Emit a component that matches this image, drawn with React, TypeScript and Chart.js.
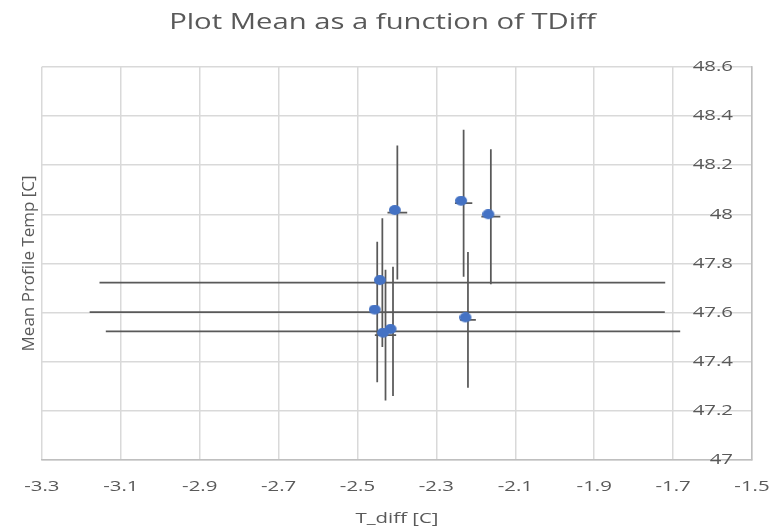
import React, { useEffect, useRef } from 'react';
import { Chart, registerables } from 'chart.js';

Chart.register(...registerables);

// ---- data ----
const X_MIN = -3.3;
const X_MAX = -1.5;
const X_STEP = 0.2;
const Y_MIN = 47;
const Y_MAX = 48.6;
const Y_STEP = 0.2;

const tDiff = [-2.399, -2.231, -2.162, -2.22, -2.437, -2.45, -2.41, -2.429];
const meanTemp = [48.007, 48.045, 47.99, 47.57, 47.722, 47.602, 47.523, 47.508];
const tDiffErr = [0.025, 0.022, 0.024, 0.02, 0.717, 0.729, 0.728, 0.027];
const meanTempErr = [0.273, 0.299, 0.275, 0.276, 0.262, 0.286, 0.263, 0.266];

const TITLE = 'Plot Mean as a function of TDiff';
const X_TITLE = 'T_diff [C]';
const Y_TITLE = 'Mean Profile Temp [C]';

// ---- styles ----
const FONT = "'Open Sans', sans-serif";
const TEXT = '#595959';
const GRID = '#d9d9d9';
const AXIS = '#bfbfbf';
const BAR = '#595959';
const MARKER = '#4472C4';
const STRETCH = 1.36; // horizontal stretch of (unrotated) text, as in the reference

function makeMarker(): HTMLCanvasElement {
  const c = document.createElement('canvas');
  c.width = 17;
  c.height = 15;
  const g = c.getContext('2d')!;
  g.fillStyle = MARKER;
  g.beginPath();
  g.ellipse(6, 5, 6, 5, 0, 0, Math.PI * 2);
  g.fill();
  return c;
}

function stretchText(ctx: CanvasRenderingContext2D) {
  const origFill = ctx.fillText.bind(ctx);
  const origMeasure = ctx.measureText.bind(ctx);
  (ctx as any).fillText = (text: string, x: number, y: number) => {
    const t = ctx.getTransform();
    if (Math.abs(t.b) > 1e-6 || Math.abs(t.c) > 1e-6) {
      origFill(text, x, y);
      return;
    }
    ctx.save();
    ctx.translate(x, y);
    ctx.scale(STRETCH, 1);
    origFill(text, 0, 0);
    ctx.restore();
  };
  (ctx as any).measureText = (text: string) => {
    const m = origMeasure(text);
    return {
      width: m.width * STRETCH,
      actualBoundingBoxAscent: m.actualBoundingBoxAscent,
      actualBoundingBoxDescent: m.actualBoundingBoxDescent,
      actualBoundingBoxLeft: m.actualBoundingBoxLeft * STRETCH,
      actualBoundingBoxRight: m.actualBoundingBoxRight * STRETCH,
      fontBoundingBoxAscent: m.fontBoundingBoxAscent,
      fontBoundingBoxDescent: m.fontBoundingBoxDescent,
    };
  };
}

const fmt = (v: number | string) => String(Math.round(Number(v) * 10) / 10);

const errorBarPlugin = {
  id: 'errorBars',
  beforeDatasetsDraw(chart: any) {
    const { ctx, scales } = chart;
    const x = scales.x;
    const y = scales.y;
    ctx.save();
    ctx.strokeStyle = BAR;
    ctx.lineWidth = 1.75;
    for (let i = 0; i < tDiff.length; i++) {
      const px = x.getPixelForValue(tDiff[i]);
      const py = y.getPixelForValue(meanTemp[i]);
      ctx.beginPath();
      ctx.moveTo(x.getPixelForValue(tDiff[i] - tDiffErr[i]), py);
      ctx.lineTo(x.getPixelForValue(tDiff[i] + tDiffErr[i]), py);
      ctx.moveTo(px, y.getPixelForValue(meanTemp[i] - meanTempErr[i]));
      ctx.lineTo(px, y.getPixelForValue(meanTemp[i] + meanTempErr[i]));
      ctx.stroke();
    }
    ctx.restore();
  },
};

export default function App() {
  const ref = useRef<HTMLCanvasElement>(null);

  useEffect(() => {
    document.body.style.margin = '0';
    const canvas = ref.current!;
    stretchText(canvas.getContext('2d')!);
    const marker = makeMarker();
    const chart = new Chart(canvas, {
      type: 'scatter',
      data: {
        datasets: [
          {
            data: tDiff.map((x, i) => ({ x, y: meanTemp[i] })),
            pointStyle: marker as any,
            pointRadius: 6,
            backgroundColor: MARKER,
            borderColor: MARKER,
          },
        ],
      },
      options: {
        responsive: false,
        animation: false,
        layout: { padding: { left: 13, right: 20, top: 0, bottom: 2 } },
        plugins: {
          legend: { display: false },
          tooltip: { enabled: false },
          title: {
            display: true,
            text: TITLE,
            color: TEXT,
            font: { family: FONT, size: 21.5, weight: 'normal' },
            padding: { top: 10, bottom: 31 },
          },
        },
        scales: {
          x: {
            type: 'linear',
            position: 'bottom',
            min: X_MIN,
            max: X_MAX,
            ticks: {
              stepSize: X_STEP,
              color: TEXT,
              font: { family: FONT, size: 15 },
              padding: 0,
              callback: (v: any) => fmt(v),
            },
            grid: {
              color: GRID,
              lineWidth: 1.5,
              drawTicks: true,
              tickLength: 18,
              tickColor: 'rgba(0,0,0,0)',
            },
            border: { display: true, color: AXIS, width: 1.5 },
            title: {
              display: true,
              text: X_TITLE,
              color: TEXT,
              font: { family: FONT, size: 15 },
              padding: { top: 14, bottom: 0 },
            },
          },
          y: {
            type: 'linear',
            position: 'right',
            min: Y_MIN,
            max: Y_MAX,
            afterFit: (scale: any) => {
              scale.width = 0;
            },
            ticks: {
              stepSize: Y_STEP,
              mirror: true,
              padding: -19,
              color: TEXT,
              font: { family: FONT, size: 15 },
              callback: (v: any) => fmt(v),
            },
            grid: { color: GRID, lineWidth: 1.5, drawTicks: false },
            border: { display: true, color: AXIS, width: 1.5 },
          },
          yTitle: {
            type: 'linear',
            position: 'left',
            min: Y_MIN,
            max: Y_MAX,
            ticks: { display: false },
            grid: { display: false, drawTicks: false },
            border: { display: false },
            title: {
              display: true,
              text: Y_TITLE,
              color: TEXT,
              font: { family: FONT, size: 17 },
              padding: { top: 6, bottom: 2.5 },
            },
          },
        },
      },
      plugins: [errorBarPlugin],
    });
    return () => chart.destroy();
  }, []);

  return <canvas ref={ref} width={772} height={530} style={{ display: 'block' }} />;
}
